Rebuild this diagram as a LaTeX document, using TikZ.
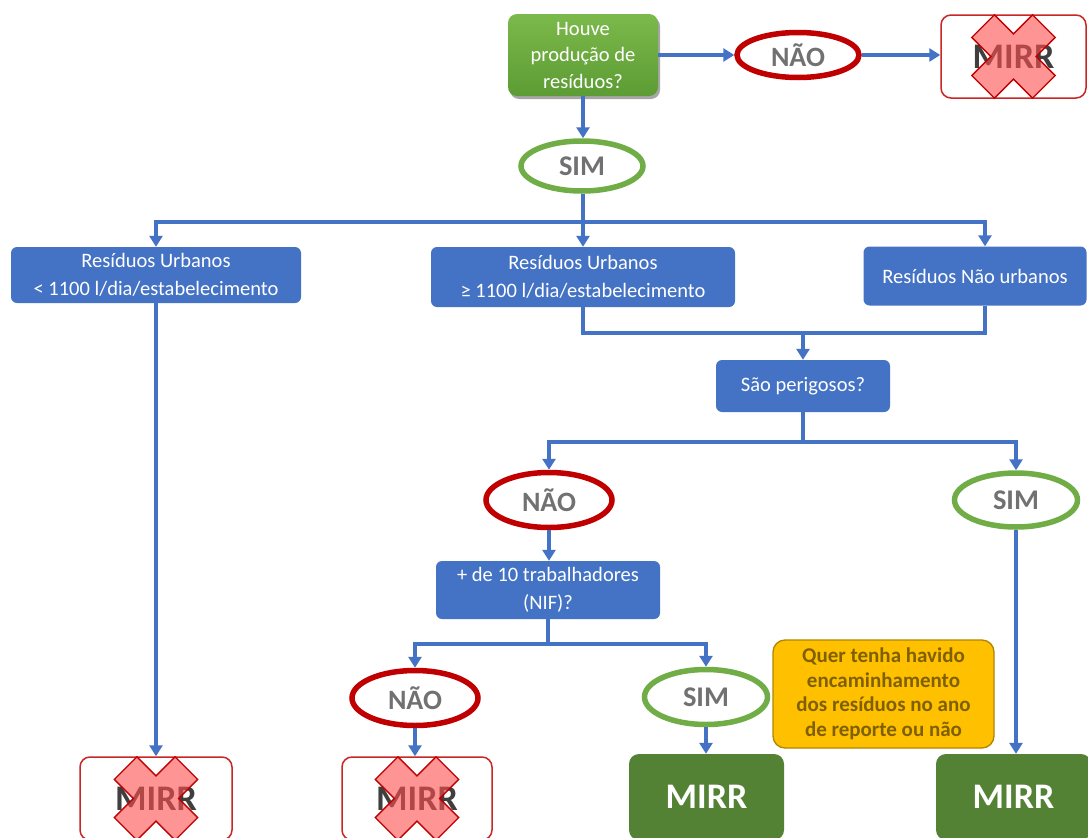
\documentclass[tikz,border=0pt]{standalone}
\usepackage{fontspec}
\setmainfont{Carlito}
\usetikzlibrary{shapes.geometric,arrows.meta,shadows}
\definecolor{myblue}{HTML}{4472C4}
\definecolor{ared}{HTML}{C00000}
\definecolor{agreen}{HTML}{70AD47}
\definecolor{dgreen}{HTML}{548235}
\definecolor{gtop}{HTML}{7CB94B}
\definecolor{gbot}{HTML}{5C9C34}
\definecolor{ygold}{HTML}{FFC000}
\definecolor{ybord}{HTML}{B08600}
\definecolor{ytext}{HTML}{7F6000}
\definecolor{egray}{HTML}{717171}
\definecolor{mgray}{HTML}{3F3F3F}
\definecolor{xred}{HTML}{C00000}
\definecolor{xpink}{HTML}{FF4D4D}
\tikzset{
  bluebox/.style={fill=myblue, rounded corners=6pt, text=white, align=center, inner sep=0pt,
    font=\fontsize{20.5}{27.5}\selectfont},
  qbox/.style={top color=gtop, bottom color=gbot, rounded corners=9pt, text=white, align=center,
    inner sep=0pt, font=\fontsize{20.5}{26.5}\selectfont,
    drop shadow={shadow xshift=2pt, shadow yshift=-3pt, opacity=0.35, fill=black}},
  noell/.style={ellipse, draw=ared, line width=5.5pt, fill=white, inner sep=0pt, text=egray,
    font=\bfseries\fontsize{28}{30}\selectfont},
  yesell/.style={ellipse, draw=agreen, line width=5.5pt, fill=white, inner sep=0pt, text=egray,
    font=\bfseries\fontsize{28.5}{30}\selectfont},
  xbox/.style={draw=xred!85, line width=1.5pt, fill=white, rounded corners=10pt, text=mgray,
    inner sep=0pt, font=\bfseries\fontsize{36}{40}\selectfont},
  okbox/.style={fill=dgreen, rounded corners=10pt, text=white, inner sep=0pt,
    font=\bfseries\fontsize{36}{40}\selectfont},
  notebox/.style={fill=ygold, draw=ybord, line width=1.3pt, rounded corners=12pt, text=ytext,
    align=center, inner sep=0pt, font=\bfseries\fontsize{21}{24.5}\selectfont},
  conn/.style={draw=myblue, line width=3.6pt},
  arr/.style={draw=myblue, line width=3.6pt, -{Triangle[length=11pt,width=13pt]}},
  xmark/.pic={
    \begin{scope}[rotate=45]
      \filldraw[draw=xred, fill=xpink, fill opacity=0.6, line width=1.3pt]
        (16,16) -- (16,43) -- (-16,43) -- (-16,16) -- (-43,16) -- (-43,-16) -- (-16,-16)
        -- (-16,-43) -- (16,-43) -- (16,-16) -- (43,-16) -- (43,16) -- cycle;
    \end{scope}}
}
\begin{document}
\begin{tikzpicture}[x=1pt,y=-1pt]
\useasboundingbox (0,0) rectangle (1088,838);
\clip (0,0) rectangle (1088,838);
\fill[white] (0,0) rectangle (1088,838);

% top row
\node[qbox, minimum width=150pt, minimum height=82pt] (q) at (583,55) {Houve\\produção de\\resíduos?};
\node[noell, minimum width=122pt, minimum height=45pt] (n1) at (798,55) {NÃO};
\node[xbox, minimum width=145pt, minimum height=83pt] (m1) at (1013.5,56.5) {MIRR};
\pic at (m1.center) {xmark};
\node[yesell, minimum width=122pt, minimum height=50pt] (s1) at (582,166) {SIM};

% blue boxes
\node[bluebox, minimum width=290pt, minimum height=56pt] (b1) at (156,275) {Resíduos Urbanos\\< 1100 l/dia/estabelecimento};
\node[bluebox, minimum width=304pt, minimum height=60pt] (b2) at (583,277) {Resíduos Urbanos\\≥ 1100 l/dia/estabelecimento};
\node[bluebox, minimum width=223pt, minimum height=59pt] (b3) at (975,276) {Resíduos Não urbanos};
\node[bluebox, minimum width=174pt, minimum height=52pt] (sp) at (803,386) {São perigosos?};

% second level
\node[noell, minimum width=126pt, minimum height=55pt] (n2) at (549,500) {NÃO};
\node[yesell, minimum width=123pt, minimum height=54pt] (s2) at (1016,500) {SIM};
\node[bluebox, minimum width=224pt, minimum height=58pt] (t) at (548,590) {+ de 10 trabalhadores\\(NIF)?};
\node[noell, minimum width=126pt, minimum height=55pt] (n3) at (415,698) {NÃO};
\node[yesell, minimum width=123pt, minimum height=55pt] (s3) at (706,697) {SIM};
\node[notebox, minimum width=221pt, minimum height=108pt] (y1) at (883.5,694) {Quer tenha havido\\encaminhamento\\dos resíduos no ano\\de reporte ou não};

% bottom row
\node[xbox, minimum width=152pt, minimum height=83pt] (x1) at (156,798.5) {MIRR};
\pic at (x1.center) {xmark};
\node[xbox, minimum width=150pt, minimum height=83pt] (x2) at (417,798.5) {MIRR};
\pic at (x2.center) {xmark};
\node[okbox, minimum width=155pt, minimum height=86pt] (g1) at (706.5,797) {MIRR};
\node[okbox, minimum width=155pt, minimum height=86pt] (g2) at (1013.5,797) {MIRR};

% connectors
\draw[arr] (q.east) -- (n1.west);
\draw[arr] (n1.east) -- (n1.east -| m1.west);
\draw[arr] (q.south) -- (s1.north -| q.south);
\coordinate (j1) at (583,222);
\draw[conn] (s1.south -| j1) -- (j1);
\draw[arr] (j1) -| (b1.north);
\draw[arr] (j1) -- (b2.north);
\draw[arr] (j1) -| ([xshift=10pt]b3.north);
\coordinate (j2) at (583,333);
\draw[conn] (b2.south) -- (j2) -| ([xshift=10pt]b3.south);
\draw[arr] (j2 -| sp.north) -- (sp.north);
\coordinate (j3) at (803,442);
\draw[conn] (sp.south) -- (j3);
\draw[arr] (j3) -| (n2.north);
\draw[arr] (j3) -| (s2.north);
\draw[arr] (n2.south) -- (t.north -| n2.south);
\coordinate (j4) at (548,644);
\draw[conn] (t.south) -- (j4);
\draw[arr] (j4) -| (n3.north);
\draw[arr] (j4) -| (s3.north);
\draw[arr] (b1.south) -- (x1.north);
\draw[arr] (n3.south) -- (n3.south |- x2.north);
\draw[arr] (s3.south) -- (s3.south |- g1.north);
\draw[arr] (s2.south) -- (s2.south |- g2.north);
\end{tikzpicture}
\end{document}
